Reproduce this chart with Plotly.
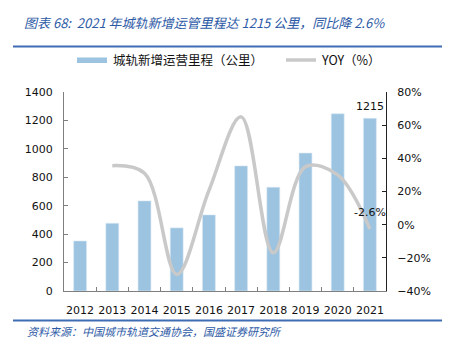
import plotly.graph_objects as go

years = ["2012", "2013", "2014", "2015", "2016", "2017", "2018", "2019", "2020", "2021"]
mileage = [352, 476, 634, 444, 535, 880, 730, 970, 1247, 1215]
yoy = [None, 35.6, 31, -30, 20.5, 65, -17, 35, 30, -2.6]

title_text = "图表 68:  2021 年城轨新增运管里程达 1215 公里，同比降 2.6%"
source_text = "资料来源：中国城市轨道交通协会，国盛证券研究所"
bar_name = "城轨新增运营里程（公里）"
line_name = "YOY（%）"

W, H = 449, 351
L, R, T, B = 64, 386, 92, 291
pw, ph = R - L, B - T

def px(x):
    return (x - L) / pw

def py(y):
    return (B - y) / ph

bar_color = "#9CC3E0"
line_color = "#C9C9C9"
blue = "#2D5AA6"
tick_font = dict(family="DejaVu Sans", size=11, color="#111111")
cjk = "Noto Sans CJK SC"

fig = go.Figure()
fig.add_trace(go.Bar(x=years, y=mileage, name=bar_name,
                     marker=dict(color=bar_color, line=dict(width=0.6, color="#D6E7F4")),
                     showlegend=False))
fig.add_trace(go.Scatter(x=years, y=yoy, name=line_name, yaxis="y2", mode="lines",
                         line=dict(color=line_color, width=3.5, shape="spline", smoothing=1.0),
                         connectgaps=False, showlegend=False))

fig.update_layout(
    width=W, height=H,
    margin=dict(l=L, r=W - R, t=T, b=H - B, autoexpand=False),
    paper_bgcolor="white", plot_bgcolor="white",
    bargap=0.6,
    xaxis=dict(type="category", categoryorder="array", categoryarray=years, range=[-0.5, len(years) - 0.5],
               showline=True, linecolor="#7F7F7F", linewidth=1,
               ticks="inside", ticklen=4, tickcolor="#7F7F7F", tickson="boundaries",
               tickfont=tick_font, showgrid=False, tickangle=0, ticklabelstandoff=9),
    yaxis=dict(range=[0, 1400], dtick=200, showline=True, linecolor="#7F7F7F", linewidth=1,
               ticks="inside", ticklen=4, tickcolor="#7F7F7F", showgrid=False, zeroline=False,
               tickfont=tick_font, ticklabelstandoff=8),
    yaxis2=dict(range=[-40, 80], dtick=20, ticksuffix="%", overlaying="y", side="right",
                showline=True, linecolor="#222222", linewidth=1,
                ticks="inside", ticklen=4, tickcolor="#222222", showgrid=False, zeroline=False,
                tickfont=tick_font, ticklabelstandoff=8),
    font=dict(family="DejaVu Sans"),
)

# data labels (category index positions)
last = len(years) - 1
fig.add_annotation(x=last, y=mileage[-1], xref="x", yref="y", text=str(mileage[-1]),
                   showarrow=False, yanchor="bottom", yshift=3, font=tick_font)
fig.add_annotation(x=last, y=yoy[-1], xref="x", yref="y2", text=f"{yoy[-1]}%",
                   showarrow=False, yanchor="bottom", yshift=8, font=tick_font)

# title & source
fig.add_annotation(x=px(22), y=py(23), xref="paper", yref="paper", text=f"<i>{title_text}</i>",
                   showarrow=False, xanchor="left", yanchor="middle",
                   font=dict(family=cjk, size=13, color=blue))
fig.add_annotation(x=px(25), y=py(331), xref="paper", yref="paper", text=f"<i>{source_text}</i>",
                   showarrow=False, xanchor="left", yanchor="middle",
                   font=dict(family=cjk, size=11, color=blue))
for yy in (46.5, 320.5):
    fig.add_shape(type="line", xref="paper", yref="paper", x0=px(13), x1=px(442), y0=py(yy), y1=py(yy),
                  line=dict(color="#3F6DB3", width=2))

# legend (drawn)
fig.add_shape(type="rect", xref="paper", yref="paper", x0=px(77), x1=px(107), y0=py(57.5), y1=py(63),
              fillcolor=bar_color, line=dict(width=0))
fig.add_annotation(x=px(111), y=py(60), xref="paper", yref="paper", text=bar_name, showarrow=False,
                   xanchor="left", yanchor="middle", font=dict(family=cjk, size=12.5, color="#111111"))
fig.add_shape(type="line", xref="paper", yref="paper", x0=px(286), x1=px(316), y0=py(60), y1=py(60),
              line=dict(color=line_color, width=3.5))
fig.add_annotation(x=px(319), y=py(60), xref="paper", yref="paper", text=line_name, showarrow=False,
                   xanchor="left", yanchor="middle", font=dict(family=cjk, size=12.5, color="#111111"))

fig.write_html("out.html")
